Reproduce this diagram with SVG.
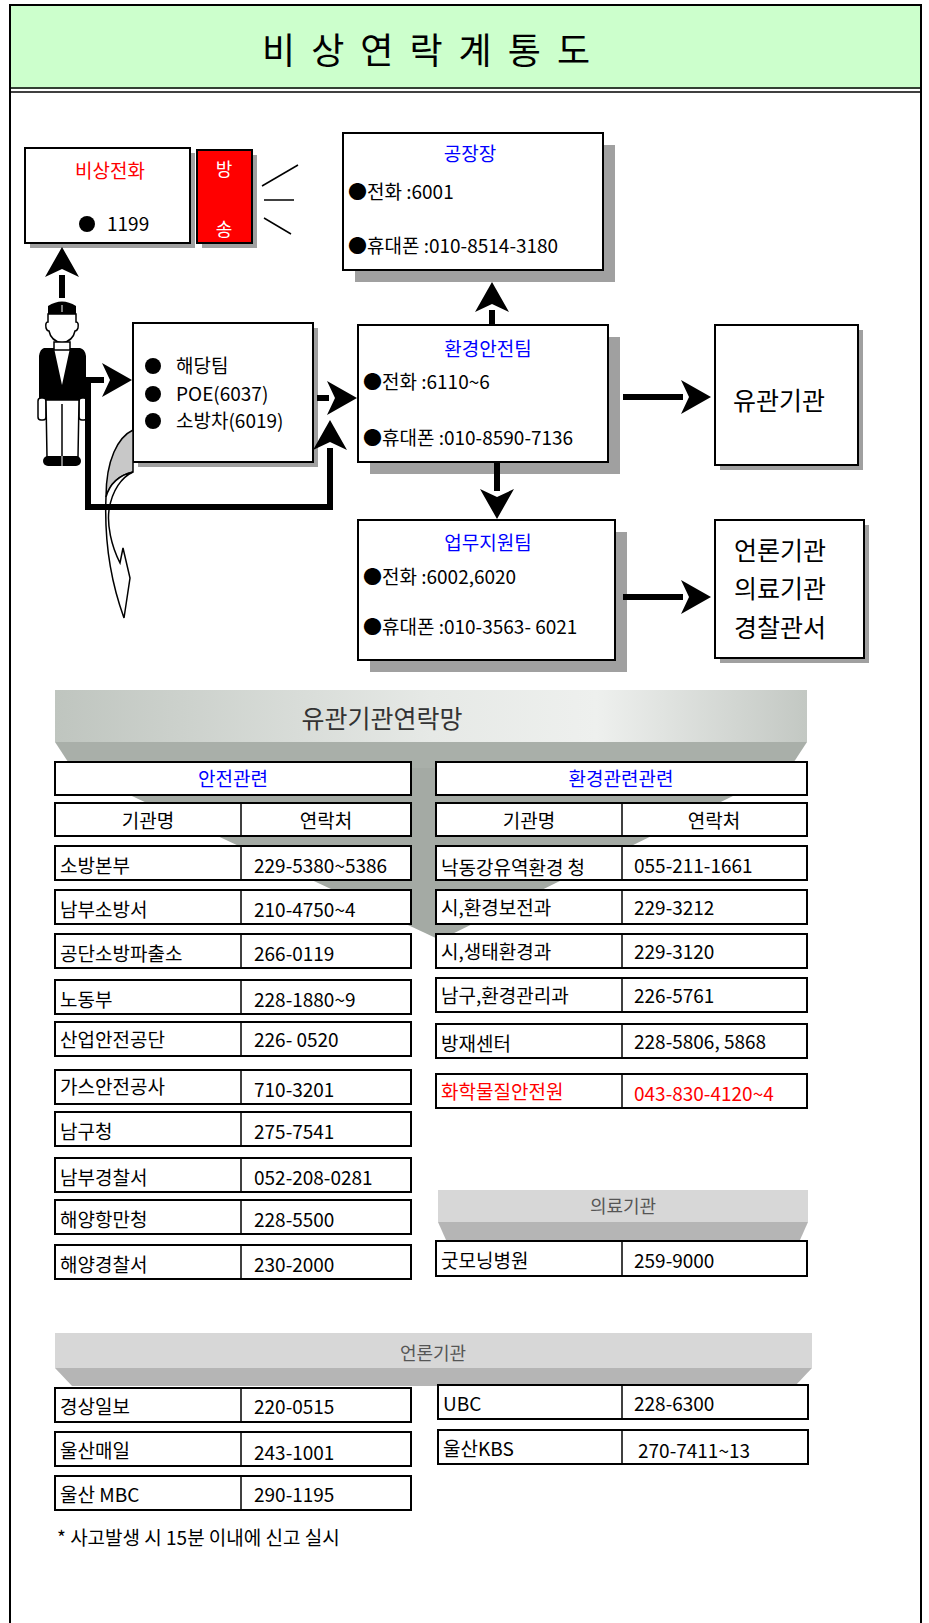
<svg xmlns="http://www.w3.org/2000/svg" width="929" height="1623" viewBox="0 0 929 1623">
<style>
.t{font-family:"Noto Sans CJK KR","Noto Sans",sans-serif;font-size:19px;fill:#000}
.m{text-anchor:middle}
.blue{fill:#0000ff}
.red{fill:#ff0000}
.box{fill:#fff;stroke:#000;stroke-width:2}
.sh{fill:#a0a0a0}
.row{fill:#fff;stroke:#000;stroke-width:2}
.conn{fill:none;stroke:#000;stroke-width:6}
.big{font-size:25px}
</style>
<defs>
<marker id="ah" markerUnits="userSpaceOnUse" markerWidth="30" markerHeight="34" refX="2" refY="17" orient="auto" viewBox="0 0 30 34">
<path d="M30,17 L0,0 L8,17 L0,34 Z" fill="#000"/>
</marker>
<linearGradient id="bg" x1="0" y1="0" x2="1" y2="0">
<stop offset="0" stop-color="#bfc5bf"/>
<stop offset="0.5" stop-color="#e6e9e6"/>
<stop offset="0.72" stop-color="#eef0ee"/>
<stop offset="1" stop-color="#c3c8c3"/>
</linearGradient>
</defs>
<rect x="0" y="0" width="929" height="1623" fill="#fff"/>
<!-- frame & header -->
<g id="header">
<rect x="10" y="5" width="911" height="84" fill="#ccffcc" stroke="none"/>
<path d="M10,1630 L10,5 L921,5 L921,1630" fill="none" stroke="#000" stroke-width="2"/>
<line x1="10" y1="88" x2="921" y2="88" stroke="#000" stroke-width="1.5"/>
<line x1="10" y1="92" x2="921" y2="92" stroke="#000" stroke-width="1.5"/>
<text class="t m" x="426" y="64" style="font-size:36px" textLength="328" lengthAdjust="spacing">비 상 연 락 계 통 도</text>
</g>
<!-- flow nodes -->
<g id="n-emergency-phone">
<rect class="sh" x="30" y="153" width="165" height="95"/>
<rect class="box" x="25" y="148" width="165" height="95"/>
<text class="t red m" x="110" y="178">비상전화</text>
<circle cx="87" cy="224" r="8" fill="#000"/>
<text class="t" x="107" y="231">1199</text>
</g>
<g id="n-broadcast">
<rect class="sh" x="202" y="155" width="55" height="93"/>
<rect x="197" y="150" width="55" height="93" fill="#ff0000" stroke="#000" stroke-width="2"/>
<text class="t m" x="224" y="176" style="fill:#fff;font-size:18px">방</text>
<text class="t m" x="224" y="236" style="fill:#fff;font-size:18px">송</text>
<line x1="262" y1="186" x2="298" y2="165" stroke="#000" stroke-width="1.5"/>
<line x1="264" y1="200" x2="294" y2="200" stroke="#000" stroke-width="1.5"/>
<line x1="264" y1="218" x2="291" y2="234" stroke="#000" stroke-width="1.5"/>
</g>
<g id="n-plant-manager">
<rect class="sh" x="355" y="145" width="260" height="137"/>
<rect class="box" x="343" y="133" width="260" height="137"/>
<text class="t blue m" x="470" y="161">공장장</text>
<text class="t" x="348" y="199">●전화 :6001</text>
<text class="t" x="348" y="253">●휴대폰 :010-8514-3180</text>
</g>
<g id="n-person">
<path d="M48,316 L48,306 Q62,297 76,306 L76,316 Z" fill="#000"/>
<path d="M48,314 L48,322 Q45,322 46,328 Q47,331 49,331 Q51,341 62,343 Q73,341 75,331 Q77,331 78,328 Q79,322 76,322 L76,314 Z" fill="#fff" stroke="#000" stroke-width="1.5"/>
<line x1="62" y1="305" x2="62" y2="312" stroke="#fff" stroke-width="1"/>
<path d="M54,342 L54,350 L70,350 L70,342 Z" fill="#fff" stroke="#000" stroke-width="1.5"/>
<path d="M44,348 Q40,349 39,356 L39,400 L86,400 L86,356 Q85,349 80,348 L70,348 L62,385 L54,348 Z" fill="#000"/>
<rect x="38" y="398" width="8" height="22" rx="3" fill="#fff" stroke="#000" stroke-width="1.5"/>
<rect x="79" y="398" width="8" height="22" rx="3" fill="#fff" stroke="#000" stroke-width="1.5"/>
<path d="M46,400 L79,400 L78,457 L47,457 Z" fill="#fff" stroke="#000" stroke-width="1.5"/>
<line x1="62" y1="404" x2="62" y2="457" stroke="#000" stroke-width="1.5"/>
<rect x="43" y="456" width="38" height="10" rx="5" fill="#000"/>
<line x1="62" y1="456" x2="62" y2="466" stroke="#fff" stroke-width="1"/>
</g>
<g id="n-team">
<rect class="sh" x="138" y="328" width="180" height="139"/>
<rect class="box" x="133" y="323" width="180" height="139"/>
<circle cx="153" cy="366" r="8" fill="#000"/>
<circle cx="153" cy="394" r="8" fill="#000"/>
<circle cx="153" cy="421" r="8" fill="#000"/>
<text class="t" x="176" y="373">해당팀</text>
<text class="t" x="176" y="401">POE(6037)</text>
<text class="t" x="176" y="428">소방차(6019)</text>
</g>
<g id="n-env-safety">
<rect class="sh" x="370" y="337" width="250" height="137"/>
<rect class="box" x="358" y="325" width="250" height="137"/>
<text class="t blue m" x="488" y="356">환경안전팀</text>
<text class="t" x="363" y="389">●전화 :6110~6</text>
<text class="t" x="363" y="445">●휴대폰 :010-8590-7136</text>
</g>
<g id="n-related">
<rect class="sh" x="720" y="330" width="143" height="140"/>
<rect class="box" x="715" y="325" width="143" height="140"/>
<text class="t big" x="733" y="410">유관기관</text>
</g>
<g id="n-support">
<rect class="sh" x="370" y="532" width="257" height="140"/>
<rect class="box" x="358" y="520" width="257" height="140"/>
<text class="t blue m" x="488" y="550">업무지원팀</text>
<text class="t" x="363" y="584">●전화 :6002,6020</text>
<text class="t" x="363" y="634">●휴대폰 :010-3563- 6021</text>
</g>
<g id="n-media">
<rect class="sh" x="720" y="525" width="149" height="138"/>
<rect class="box" x="715" y="520" width="149" height="138"/>
<text class="t big" x="734" y="560">언론기관</text>
<text class="t big" x="734" y="598">의료기관</text>
<text class="t big" x="734" y="637">경찰관서</text>
</g>
<g id="n-curved-arrow">
<path d="M133,430 C118,437 106,460 106,497 C110,483 120,475 133,472 Z" fill="#c8c8c8" stroke="#000" stroke-width="1.5"/>
<path d="M106,497 C104,545 112,585 124,618 L130,578 L123,548 L120,563 C111,545 107,525 109,510 C112,490 122,477 133,472 C120,475 110,483 106,497 Z" fill="#fff" stroke="#000" stroke-width="1.5"/>
</g>
<!-- connectors -->
<g id="connectors">
<path class="conn" d="M62,298 L62,275" marker-end="url(#ah)"/>
<path class="conn" d="M86,380 L104,380" marker-end="url(#ah)"/>
<path class="conn" d="M88,380 L88,507 L330,507 L330,448" marker-end="url(#ah)"/>
<path class="conn" d="M317,398 L329,398" marker-end="url(#ah)"/>
<path class="conn" d="M492,325 L492,310" marker-end="url(#ah)"/>
<path class="conn" d="M497,462 L497,491" marker-end="url(#ah)"/>
<path class="conn" d="M623,397 L683,397" marker-end="url(#ah)"/>
<path class="conn" d="M623,597 L683,597" marker-end="url(#ah)"/>
</g>
<!-- contact network banner -->
<g id="banner-main">
<polygon points="72,768 790,768 440,940" fill="#a4aaa4"/>
<polygon points="55,742 807,742 790,768 72,768" fill="#a9afa9"/>
<rect x="55" y="690" width="752" height="52" fill="url(#bg)"/>
<text class="t m" x="382" y="728" style="font-size:25px;fill:#333">유관기관연락망</text>
</g>
<g id="tbl-safety">
<rect class="row" x="55" y="762" width="356" height="33"/>
<text class="t blue m" x="233" y="786">안전관련</text>
<rect class="row" x="55" y="803" width="356" height="33"/>
<line x1="241" y1="803" x2="241" y2="836" stroke="#000" stroke-width="1.5"/>
<text class="t m" x="148" y="828">기관명</text>
<text class="t m" x="326" y="828">연락처</text>
<g>
<rect class="row" x="55" y="846" width="356" height="34"/><line x1="241" y1="846" x2="241" y2="880" stroke="#000" stroke-width="1.5"/>
<text class="t" x="60" y="873">소방본부</text><text class="t" x="254" y="873">229-5380~5386</text>
<rect class="row" x="55" y="890" width="356" height="34"/><line x1="241" y1="890" x2="241" y2="924" stroke="#000" stroke-width="1.5"/>
<text class="t" x="60" y="917">남부소방서</text><text class="t" x="254" y="917">210-4750~4</text>
<rect class="row" x="55" y="934" width="356" height="34"/><line x1="241" y1="934" x2="241" y2="968" stroke="#000" stroke-width="1.5"/>
<text class="t" x="60" y="961">공단소방파출소</text><text class="t" x="254" y="961">266-0119</text>
<rect class="row" x="55" y="980" width="356" height="34"/><line x1="241" y1="980" x2="241" y2="1014" stroke="#000" stroke-width="1.5"/>
<text class="t" x="60" y="1007">노동부</text><text class="t" x="254" y="1007">228-1880~9</text>
<rect class="row" x="55" y="1022" width="356" height="34"/><line x1="241" y1="1022" x2="241" y2="1056" stroke="#000" stroke-width="1.5"/>
<text class="t" x="60" y="1047">산업안전공단</text><text class="t" x="254" y="1047">226- 0520</text>
<rect class="row" x="55" y="1070" width="356" height="34"/><line x1="241" y1="1070" x2="241" y2="1104" stroke="#000" stroke-width="1.5"/>
<text class="t" x="60" y="1094">가스안전공사</text><text class="t" x="254" y="1097">710-3201</text>
<rect class="row" x="55" y="1112" width="356" height="34"/><line x1="241" y1="1112" x2="241" y2="1146" stroke="#000" stroke-width="1.5"/>
<text class="t" x="60" y="1139">남구청</text><text class="t" x="254" y="1139">275-7541</text>
<rect class="row" x="55" y="1158" width="356" height="34"/><line x1="241" y1="1158" x2="241" y2="1192" stroke="#000" stroke-width="1.5"/>
<text class="t" x="60" y="1185">남부경찰서</text><text class="t" x="254" y="1185">052-208-0281</text>
<rect class="row" x="55" y="1200" width="356" height="34"/><line x1="241" y1="1200" x2="241" y2="1234" stroke="#000" stroke-width="1.5"/>
<text class="t" x="60" y="1227">해양항만청</text><text class="t" x="254" y="1227">228-5500</text>
<rect class="row" x="55" y="1245" width="356" height="34"/><line x1="241" y1="1245" x2="241" y2="1279" stroke="#000" stroke-width="1.5"/>
<text class="t" x="60" y="1272">해양경찰서</text><text class="t" x="254" y="1272">230-2000</text>
</g>
</g>
<g id="tbl-env">
<rect class="row" x="436" y="762" width="371" height="33"/>
<text class="t blue m" x="621" y="786">환경관련관련</text>
<rect class="row" x="436" y="803" width="371" height="33"/>
<line x1="622" y1="803" x2="622" y2="836" stroke="#000" stroke-width="1.5"/>
<text class="t m" x="529" y="828">기관명</text>
<text class="t m" x="714" y="828">연락처</text>
<rect class="row" x="436" y="846" width="371" height="34"/><line x1="622" y1="846" x2="622" y2="880" stroke="#000" stroke-width="1.5"/>
<text class="t" x="441" y="875">낙동강유역환경 청</text><text class="t" x="634" y="873">055-211-1661</text>
<rect class="row" x="436" y="890" width="371" height="34"/><line x1="622" y1="890" x2="622" y2="924" stroke="#000" stroke-width="1.5"/>
<text class="t" x="441" y="915">시,환경보전과</text><text class="t" x="634" y="915">229-3212</text>
<rect class="row" x="436" y="934" width="371" height="34"/><line x1="622" y1="934" x2="622" y2="968" stroke="#000" stroke-width="1.5"/>
<text class="t" x="441" y="959">시,생태환경과</text><text class="t" x="634" y="959">229-3120</text>
<rect class="row" x="436" y="978" width="371" height="34"/><line x1="622" y1="978" x2="622" y2="1012" stroke="#000" stroke-width="1.5"/>
<text class="t" x="441" y="1003">남구,환경관리과</text><text class="t" x="634" y="1003">226-5761</text>
<rect class="row" x="436" y="1024" width="371" height="34"/><line x1="622" y1="1024" x2="622" y2="1058" stroke="#000" stroke-width="1.5"/>
<text class="t" x="441" y="1051">방재센터</text><text class="t" x="634" y="1049">228-5806, 5868</text>
<rect class="row" x="436" y="1074" width="371" height="34"/><line x1="622" y1="1074" x2="622" y2="1108" stroke="#000" stroke-width="1.5"/>
<text class="t red" x="441" y="1099">화학물질안전원</text><text class="t red" x="634" y="1101">043-830-4120~4</text>
</g>
<g id="tbl-medical">
<polygon points="438,1222 808,1222 800,1240 446,1240" fill="#b5b5b5"/>
<rect x="438" y="1190" width="370" height="32" fill="#d7d7d7"/>
<text class="t m" x="623" y="1213" style="font-size:18px;fill:#555">의료기관</text>
<rect class="row" x="436" y="1241" width="371" height="35"/><line x1="622" y1="1241" x2="622" y2="1276" stroke="#000" stroke-width="1.5"/>
<text class="t" x="441" y="1268">굿모닝병원</text><text class="t" x="634" y="1268">259-9000</text>
</g>
<g id="tbl-media">
<polygon points="55,1368 812,1368 795,1386 72,1386" fill="#b5b5b5"/>
<rect x="55" y="1333" width="757" height="35" fill="#d7d7d7"/>
<text class="t m" x="433" y="1360" style="font-size:18px;fill:#555">언론기관</text>
<rect class="row" x="55" y="1388" width="356" height="34"/><line x1="241" y1="1388" x2="241" y2="1422" stroke="#000" stroke-width="1.5"/>
<text class="t" x="60" y="1414">경상일보</text><text class="t" x="254" y="1414">220-0515</text>
<rect class="row" x="55" y="1432" width="356" height="34"/><line x1="241" y1="1432" x2="241" y2="1466" stroke="#000" stroke-width="1.5"/>
<text class="t" x="60" y="1458">울산매일</text><text class="t" x="254" y="1460">243-1001</text>
<rect class="row" x="55" y="1476" width="356" height="34"/><line x1="241" y1="1476" x2="241" y2="1510" stroke="#000" stroke-width="1.5"/>
<text class="t" x="60" y="1502">울산 MBC</text><text class="t" x="254" y="1502">290-1195</text>
<rect class="row" x="438" y="1385" width="370" height="34"/><line x1="622" y1="1385" x2="622" y2="1419" stroke="#000" stroke-width="1.5"/>
<text class="t" x="443" y="1411">UBC</text><text class="t" x="634" y="1411">228-6300</text>
<rect class="row" x="438" y="1430" width="370" height="34"/><line x1="622" y1="1430" x2="622" y2="1464" stroke="#000" stroke-width="1.5"/>
<text class="t" x="443" y="1456">울산KBS</text><text class="t" x="638" y="1458">270-7411~13</text>
</g>
<g id="footnote">
<text class="t" x="57" y="1545">* 사고발생 시 15분 이내에 신고 실시</text>
</g>
</svg>
